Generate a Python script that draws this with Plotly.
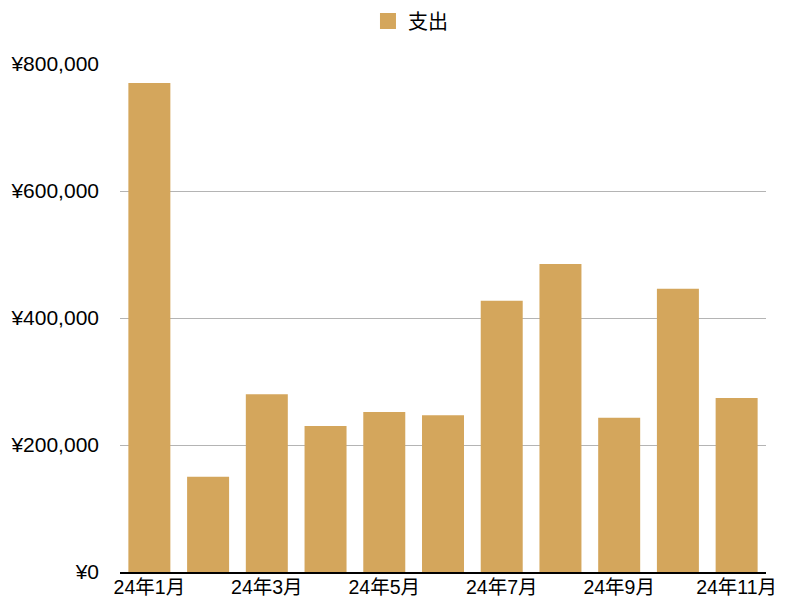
import plotly.graph_objects as go

months = ["24年1月", "24年2月", "24年3月", "24年4月", "24年5月", "24年6月",
          "24年7月", "24年8月", "24年9月", "24年10月", "24年11月"]
spending = [770000, 150000, 280000, 230000, 252000, 247000,
            427000, 485000, 243000, 446000, 274000]
tick_months = months[::2]
y_ticks = [0, 200000, 400000, 600000, 800000]
y_tick_text = ["¥0", "¥200,000", "¥400,000", "¥600,000", "¥800,000"]

bar_color = "rgb(212,166,92)"

fig = go.Figure()
fig.add_trace(go.Bar(
    x=months, y=spending, name="支出",
    marker=dict(color=bar_color, line=dict(width=0)),
    showlegend=False,
))
# legend entry (larger square symbol)
fig.add_trace(go.Scatter(
    x=[None], y=[None], mode="markers", name="支出",
    marker=dict(symbol="square", size=19, color=bar_color),
    showlegend=True,
))

font_family = "Liberation Sans, Noto Sans CJK JP, sans-serif"

# page body has an 8px default margin, so the figure is sized 780x592
fig.update_layout(
    width=780, height=592,
    margin=dict(l=112, r=22, t=56, b=28),
    plot_bgcolor="white", paper_bgcolor="white",
    font=dict(family=font_family, size=20, color="#000"),
    bargap=0.285,
    showlegend=True,
    legend=dict(orientation="h", xref="container", yref="container",
                x=0.516, xanchor="center", y=0.978, yanchor="middle",
                font=dict(size=20), itemwidth=30, bgcolor="rgba(0,0,0,0)"),
    xaxis=dict(
        type="category", tickmode="array", tickvals=tick_months, ticktext=tick_months,
        showgrid=False, showline=True, linecolor="black", linewidth=2,
        ticks="", tickfont=dict(size=19.5), tickangle=0, automargin=False,
        ticklabelstandoff=-3,
    ),
    yaxis=dict(
        range=[0, 800000], tickmode="array", tickvals=y_ticks, ticktext=y_tick_text,
        showgrid=True, gridcolor="#b4b4b4", gridwidth=1,
        zeroline=False, showline=False, ticks="", ticklabelstandoff=20,
        tickfont=dict(size=21), automargin=False,
    ),
)

fig.write_html("out.html")
